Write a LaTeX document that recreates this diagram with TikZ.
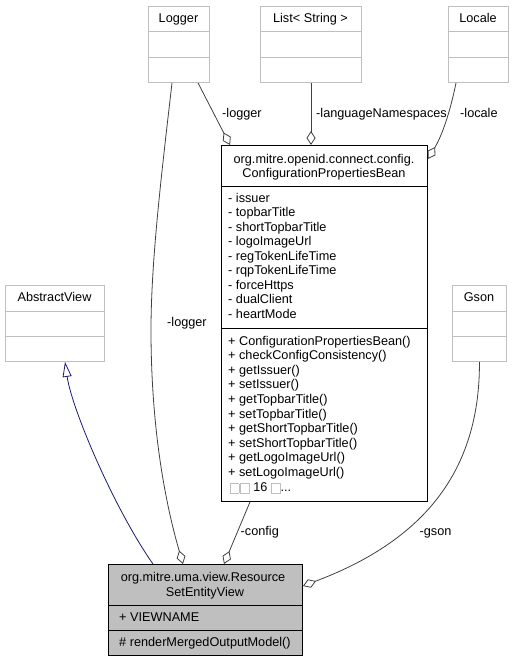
\documentclass[tikz,border=0pt]{standalone}
\usepackage{fontspec}
\setmainfont{Liberation Sans}
\usetikzlibrary{arrows.meta}
\definecolor{edgegray}{HTML}{404040}
\definecolor{boxgray}{HTML}{BFBFBF}
\definecolor{navyedge}{HTML}{191970}
\newcommand\tofuglyph{{\setlength\fboxsep{0pt}\setlength\fboxrule{0.8pt}\raisebox{-1.5pt}{\fcolorbox{boxgray}{white}{\rule{0pt}{8.6pt}\rule{8pt}{0pt}}}}}
\begin{document}
\begin{tikzpicture}[x=1pt,y=-1pt,
  every node/.style={font=\fontsize{12.7}{14.5}\selectfont},
  emptycls/.style={draw=boxgray, line width=0.9pt, fill=white, inner sep=0pt, anchor=north west},
  fullcls/.style={draw=black, line width=0.9pt, fill=white, inner sep=0pt, anchor=north west},
  focuscls/.style={draw=black, line width=0.9pt, fill=boxgray, inner sep=0pt, anchor=north west},
  lightsep/.style={draw=boxgray, line width=0.9pt},
  darksep/.style={draw=black, line width=0.9pt},
  lbl/.style={inner sep=0pt, anchor=base},
  lblw/.style={inner sep=0pt, anchor=base west},
  assoc/.style={draw=edgegray, line width=0.8pt, -{Diamond[open,length=14pt,width=9pt]}},
  inherit/.style={draw=navyedge, line width=0.8pt, -{Triangle[open,length=15pt,width=9pt]}}
]
\useasboundingbox (0,0) rectangle (514,661);

% ---- empty classes
\node[emptycls, minimum width=61pt, minimum height=76pt] (logger) at (148,6) {};
\draw[lightsep] ([yshift=-25pt]logger.north west) -- ([yshift=-25pt]logger.north east);
\draw[lightsep] ([yshift=-51pt]logger.north west) -- ([yshift=-51pt]logger.north east);
\node[lbl] (loggerT) at (178.5,22.5) {Logger};

\node[emptycls, minimum width=101pt, minimum height=76pt] (list) at (260,6) {};
\draw[lightsep] ([yshift=-25pt]list.north west) -- ([yshift=-25pt]list.north east);
\draw[lightsep] ([yshift=-51pt]list.north west) -- ([yshift=-51pt]list.north east);
\node[lbl] (listT) at (310.5,22.5) {List< String >};

\node[emptycls, minimum width=60pt, minimum height=76pt] (locale) at (448,6) {};
\draw[lightsep] ([yshift=-25pt]locale.north west) -- ([yshift=-25pt]locale.north east);
\draw[lightsep] ([yshift=-51pt]locale.north west) -- ([yshift=-51pt]locale.north east);
\node[lbl] (localeT) at (478,22.5) {Locale};

\node[emptycls, minimum width=99pt, minimum height=76pt] (abstract) at (5,285) {};
\draw[lightsep] ([yshift=-26pt]abstract.north west) -- ([yshift=-26pt]abstract.north east);
\draw[lightsep] ([yshift=-51pt]abstract.north west) -- ([yshift=-51pt]abstract.north east);
\node[lbl] (abstractT) at (54.5,301.5) {AbstractView};

\node[emptycls, minimum width=54pt, minimum height=76pt] (gson) at (452,285) {};
\draw[lightsep] ([yshift=-26pt]gson.north west) -- ([yshift=-26pt]gson.north east);
\draw[lightsep] ([yshift=-51pt]gson.north west) -- ([yshift=-51pt]gson.north east);
\node[lbl] (gsonT) at (479,301.5) {Gson};

% ---- ConfigurationPropertiesBean
\node[fullcls, minimum width=206pt, minimum height=356pt] (config) at (221,145) {};
\draw[darksep] ([yshift=-41pt]config.north west) -- ([yshift=-41pt]config.north east);
\draw[darksep] ([yshift=-183pt]config.north west) -- ([yshift=-183pt]config.north east);
\node[lbl] (configT1) at (324,163) {org.mitre.openid.connect.config.};
\node[lbl] (configT2) at (324,177.5) {ConfigurationPropertiesBean};
\foreach \t [count=\i from 0] in {- issuer,- topbarTitle,- shortTopbarTitle,- logoImageUrl,- regTokenLifeTime,- rqpTokenLifeTime,- forceHttps,- dualClient,- heartMode}
  \node[lblw] (attr\i) at (228,202+14.5*\i) {\t};
\foreach \t [count=\i from 0] in {+ ConfigurationPropertiesBean(),+ checkConfigConsistency(),+ getIssuer(),+ setIssuer(),+ getTopbarTitle(),+ setTopbarTitle(),+ getShortTopbarTitle(),+ setShortTopbarTitle(),+ getLogoImageUrl(),+ setLogoImageUrl()}
  \node[lblw] (meth\i) at (228,345+14.6*\i) {\t};
\node[lblw] (methMore) at (229.5,491) {\tofuglyph\hspace{1pt}\tofuglyph\ 16 \tofuglyph...};

% ---- ResourceSetEntityView
\node[focuscls, minimum width=194pt, minimum height=91pt] (rsev) at (108,564) {};
\draw[darksep] ([yshift=-41pt]rsev.north west) -- ([yshift=-41pt]rsev.north east);
\draw[darksep] ([yshift=-66pt]rsev.north west) -- ([yshift=-66pt]rsev.north east);
\node[lbl] (rsevT1) at (203,581.5) {org.mitre.uma.view.Resource};
\node[lbl] (rsevT2) at (205,596) {SetEntityView};
\node[lblw] (rsevA) at (119,621) {+ VIEWNAME};
\node[lblw] (rsevM) at (119,646) {\# renderMergedOutputModel()};

% ---- connector end points
\coordinate (lgToCfg) at ([xshift=50pt]logger.south west);
\coordinate (lgToRs) at ([xshift=24pt]logger.south west);
\coordinate (locToCfg) at ([xshift=8pt]locale.south west);
\coordinate (cfgFromLg) at ([xshift=9pt]config.north west);
\coordinate (cfgFromList) at ([xshift=90pt]config.north west);
\coordinate (cfgFromLoc) at ([yshift=-14pt]config.north east);
\coordinate (cfgToRs) at ([xshift=29pt]config.south west);
\coordinate (rsFromLg) at ([xshift=75pt]rsev.north west);
\coordinate (rsFromCfg) at ([xshift=116pt]rsev.north west);
\coordinate (rsToAbs) at ([xshift=45pt]rsev.north west);
\coordinate (rsFromGson) at ([yshift=-22pt]rsev.north east);
\coordinate (absFromRs) at ([xshift=60pt]abstract.south west);

% ---- connectors
\draw[assoc] (lgToCfg) -- (cfgFromLg);
\draw[assoc] (list.south -| cfgFromList) -- (cfgFromList);
\draw[assoc] (locToCfg) .. controls (451,108) and (443,134) .. (cfgFromLoc);
\draw[assoc] (lgToRs) .. controls (162,170) and (151,260) .. (151,330) .. controls (151,420) and (163,495) .. (rsFromLg);
\draw[assoc] (cfgToRs) -- (rsFromCfg);
\draw[assoc] (gson.south) .. controls (480,480) and (414,544) .. (rsFromGson);
\draw[inherit] (rsToAbs) .. controls (115,510) and (72,410) .. (absFromRs);

% ---- edge labels
\node[lblw] (lblLg1) at (222,117.5) {-logger};
\node[lblw] (lblList) at (316,117.5) {-languageNamespaces};
\node[lblw] (lblLoc) at (460,117.5) {-locale};
\node[lblw] (lblLg2) at (167,326.5) {-logger};
\node[lblw] (lblCfg) at (240.5,535) {-config};
\node[lblw] (lblGson) at (419.5,535) {-gson};
\end{tikzpicture}
\end{document}
